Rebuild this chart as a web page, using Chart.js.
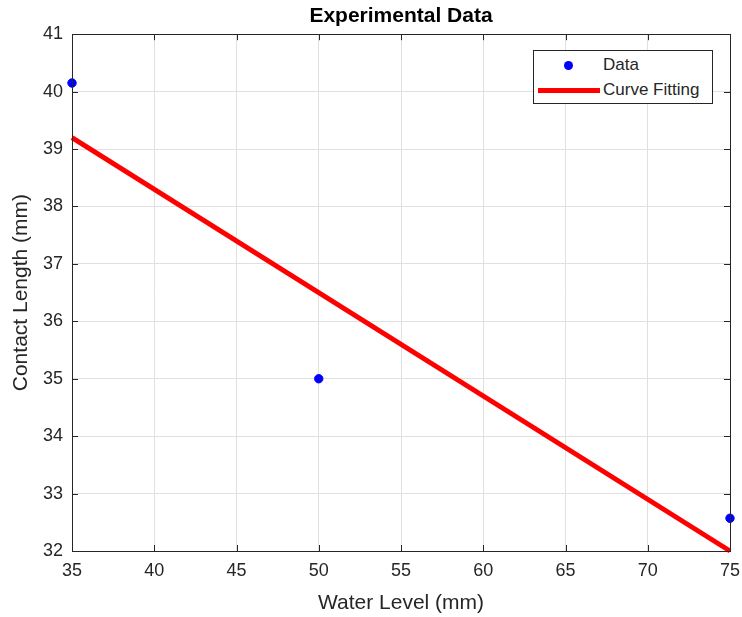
<!DOCTYPE html>
<html>
<head>
<meta charset="utf-8">
<script src="https://cdn.jsdelivr.net/npm/chart.js@4"></script>
<style>
  html, body { margin:0; padding:0; background:#fff; }
  #wrap { position:relative; width:742px; height:617px; }
  #legend {
    position:absolute; left:533px; top:50px; width:178px; height:52px;
    border:1px solid #262626; background:#fff;
    font-family:"Liberation Sans", Arial, sans-serif; font-size:17px; color:#262626;
  }
  #legend .row { position:absolute; left:0; height:20px; line-height:20px; }
  #legend .mark { position:absolute; }
  #legend .lbl { position:absolute; left:69px; white-space:nowrap; }
</style>
</head>
<body>
<div id="wrap">
  <canvas id="chart" width="742" height="617"></canvas>
  <div id="legend"></div>
</div>
<script>
/* ===== data ===== */
const waterLevel = [35, 50, 75];
const contactLength = [40.15, 35.0, 32.57];
const fitX = [35, 75];
const fitY = [39.2, 32.0];
const xTicks = [35, 40, 45, 50, 55, 60, 65, 70, 75];
const yTicks = [32, 33, 34, 35, 36, 37, 38, 39, 40, 41];

const FONT = '"Liberation Sans", Arial, sans-serif';
const AXIS = '#262626';

/* ===== box + inward ticks, matlab style ===== */
const boxPlugin = {
  id: 'box',
  afterDatasetsDraw(chart){
    const {ctx, chartArea:a, scales:{x, y}} = chart;
    ctx.save();
    ctx.strokeStyle = AXIS;
    ctx.lineWidth = 1;
    ctx.beginPath();
    x.ticks.forEach(t=>{
      const px = Math.round(x.getPixelForValue(t.value)) + 0.5;
      ctx.moveTo(px, a.bottom); ctx.lineTo(px, a.bottom - 6);
      ctx.moveTo(px, a.top); ctx.lineTo(px, a.top + 6);
    });
    y.ticks.forEach(t=>{
      const py = Math.round(y.getPixelForValue(t.value)) + 0.5;
      ctx.moveTo(a.left, py); ctx.lineTo(a.left + 6, py);
      ctx.moveTo(a.right, py); ctx.lineTo(a.right - 6, py);
    });
    ctx.stroke();
    ctx.strokeRect(Math.round(a.left)+0.5, Math.round(a.top)+0.5, Math.round(a.right-a.left), Math.round(a.bottom-a.top));
    ctx.restore();
  }
};

const chart = new Chart(document.getElementById('chart'), {
  type: 'scatter',
  data: {
    datasets: [
      {
        label: 'Data',
        data: waterLevel.map((v,i)=>({x:v, y:contactLength[i]})),
        backgroundColor: '#0000ff', borderColor: '#0000ff',
        pointRadius: 4.2, pointHoverRadius: 4.2, clip: false, order: 1
      },
      {
        label: 'Curve Fitting',
        type: 'line',
        data: fitX.map((v,i)=>({x:v, y:fitY[i]})),
        borderColor: '#ff0000', borderWidth: 5, pointRadius: 0,
        showLine: true, fill: false, clip: false, order: 2
      }
    ]
  },
  options: {
    responsive: false,
    animation: false,
    layout: { padding: { right: 12, left: 0, top: 0, bottom: 0 } },
    plugins: {
      legend: { display: false },
      tooltip: { enabled: false },
      title: {
        display: true, text: 'Experimental Data', color: '#000', fullSize: false,
        font: { family: FONT, size: 21, weight: 'bold' },
        padding: { top: 4, bottom: 5 }
      }
    },
    scales: {
      x: {
        type: 'linear', min: 35, max: 75,
        afterBuildTicks: s => { s.ticks = xTicks.map(v=>({value:v})); },
        afterFit: s => { s.height = 66; s.paddingLeft = 0; s.paddingRight = 0; },
        grid: { color: '#e0e0e0', drawTicks: false },
        border: { display: false },
        ticks: { color: AXIS, padding: 9, maxRotation: 0, font: { family: FONT, size: 18 } },
        title: { display: true, text: 'Water Level (mm)', color: AXIS, padding: { top: 4, bottom: 1 },
                 font: { family: FONT, size: 21 } }
      },
      y: {
        type: 'linear', min: 32, max: 41,
        afterBuildTicks: s => { s.ticks = yTicks.map(v=>({value:v})); },
        afterFit: s => { s.width = 72; s.paddingTop = 0; s.paddingBottom = 0; },
        grid: { color: '#e0e0e0', drawTicks: false },
        border: { display: false },
        ticks: { color: AXIS, padding: 9, font: { family: FONT, size: 18 } },
        title: { display: true, text: 'Contact Length (mm)', color: AXIS, padding: { top: 9, bottom: 0 },
                 font: { family: FONT, size: 21 } }
      }
    }
  },
  plugins: [boxPlugin]
});

/* ===== legend (html) ===== */
(function(){
  const box = document.getElementById('legend');
  const [pts, fit] = chart.data.datasets;
  box.innerHTML =
    `<div class="row" style="top:4px;width:100%">
       <span class="mark" style="left:30px;top:6px;width:9px;height:9px;border-radius:50%;background:${pts.backgroundColor}"></span>
       <span class="lbl">${pts.label}</span></div>
     <div class="row" style="top:29px;width:100%">
       <span class="mark" style="left:4px;top:8px;width:62px;height:5px;background:${fit.borderColor}"></span>
       <span class="lbl">${fit.label}</span></div>`;
})();
</script>
</body>
</html>
